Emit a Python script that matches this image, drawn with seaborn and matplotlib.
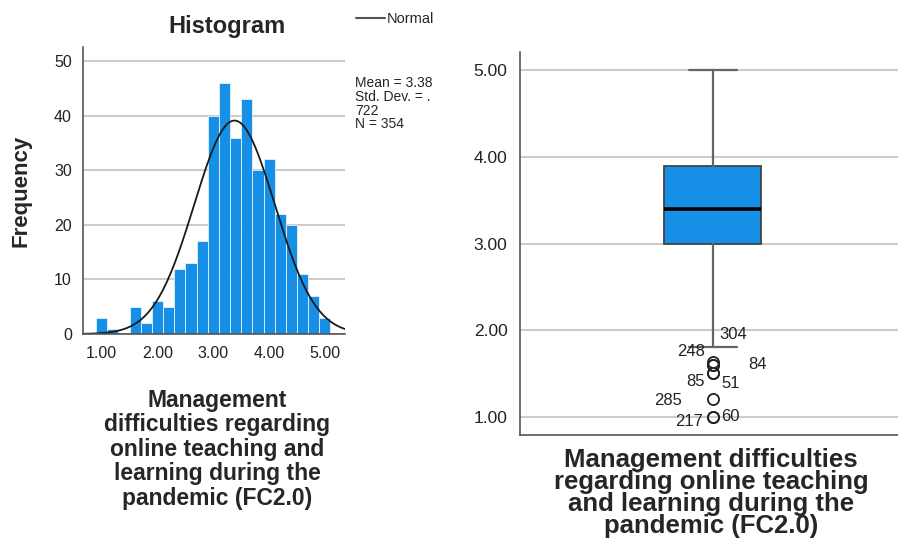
import numpy as np
import pandas as pd
import seaborn as sns
import matplotlib.pyplot as plt
from matplotlib.lines import Line2D

# histogram bins (centres) and counts
bin_centers = [1.0, 1.2, 1.4, 1.6, 1.8, 2.0, 2.2, 2.4, 2.6, 2.8, 3.0,
               3.2, 3.4, 3.6, 3.8, 4.0, 4.2, 4.4, 4.6, 4.8, 5.0]
counts = [3, 1, 0, 5, 2, 6, 5, 12, 13, 17, 40,
          46, 36, 43, 30, 32, 22, 20, 11, 7, 3]
mean_val = 3.38
sd_val = 0.722
n_val = 354

# boxplot summary
box_q1 = 3.0
box_med = 3.4
box_q3 = 3.9
whisk_lo = 1.8
whisk_hi = 5.0
outlier_vals = [1.63, 1.6, 1.6, 1.5, 1.5, 1.2, 1.0, 1.0]
outlier_ids = ["304", "248", "84", "85", "51", "285", "217", "60"]
# label offsets from each point, in pixels (dx, dy down)
outlier_off = [(20, -28), (-22, -13), (45, 0), (-17, 8), (18, 10), (-45, 1), (-24, 5), (17, 0)]

hist_ticks = [1, 2, 3, 4, 5]
box_ticks = [1, 2, 3, 4, 5]

xlabel_hist = "Management\ndifficulties regarding\nonline teaching and\nlearning during the\npandemic (FC2.0)"
xlabel_box = "Management difficulties\nregarding online teaching\nand learning during the\npandemic (FC2.0)"

blue = "#1590e6"

sns.set_style("white")
plt.rcParams['font.family'] = ['Liberation Sans', 'DejaVu Sans']

W, H = 898, 548
fig = plt.figure(figsize=(W / 100, H / 100), dpi=100)

def fx(px):
    return px / W

def fy(py):
    return 1 - py / H

ax1 = fig.add_axes([fx(83), fy(334), (345 - 83) / W, (334 - 47) / H])
ax2 = fig.add_axes([fx(520), fy(435), (898 - 520) / W, (435 - 52) / H])

# ---- histogram ----
df = pd.DataFrame({"x": bin_centers, "n": counts})
sns.histplot(data=df, x="x", weights="n", binwidth=0.2, binrange=(0.9, 5.1),
             color=blue, alpha=1, edgecolor="#e8f2fb", linewidth=0.6, ax=ax1)

xs = np.linspace(0.66, 5.36, 300)
ys = n_val * 0.2 / (sd_val * np.sqrt(2 * np.pi)) * np.exp(-0.5 * ((xs - mean_val) / sd_val) ** 2)
sns.lineplot(x=xs, y=ys, color="#1a1a1a", linewidth=1.3, ax=ax1)

ax1.set_xlim(0.665, 5.36)
ax1.set_ylim(0, 52.6)
ax1.set_xticks(hist_ticks)
ax1.set_xticklabels([f"{t:.2f}" for t in hist_ticks])
ax1.set_yticks([0, 10, 20, 30, 40, 50])
ax1.yaxis.grid(True, color="#cccccc", linewidth=1.5)
ax1.set_axisbelow(True)
ax1.tick_params(length=0, labelsize=11.5, colors="#222222")
ax1.tick_params(axis="y", pad=8)
ax1.tick_params(axis="x", pad=9)
for s in ["top", "right"]:
    ax1.spines[s].set_visible(False)
for s in ["left", "bottom"]:
    ax1.spines[s].set_color("#555555")
    ax1.spines[s].set_linewidth(1.2)
ax1.set_xlabel("")
ax1.set_ylabel("Frequency", fontsize=16, fontweight="bold", labelpad=16)
fig.text(fx(227), fy(27), "Histogram", fontsize=17, fontweight="bold", ha="center", va="center")
fig.text(fx(217), fy(389), xlabel_hist, fontsize=16.5, fontweight="bold",
         ha="center", va="top", linespacing=1.08)

leg_handle = Line2D([], [], color="#555555", linewidth=1.5)
ax1.legend([leg_handle], ["Normal"], loc="center left", bbox_to_anchor=(fx(349), fy(19)),
           bbox_transform=fig.transFigure, frameon=False, handlelength=2.0,
           handletextpad=0.1, fontsize=10.5, borderpad=0)
fig.text(fx(355), fy(76), "Mean = 3.38\nStd. Dev. = .\n722\nN = 354",
         fontsize=10, ha="left", va="top", linespacing=0.98)

# ---- boxplot ----
stats = [dict(med=box_med, q1=box_q1, q3=box_q3, whislo=whisk_lo, whishi=whisk_hi,
              fliers=outlier_vals)]
ax2.yaxis.grid(True, color="#cccccc", linewidth=1.5)
ax2.set_axisbelow(True)
ax2.bxp(stats, positions=[0], widths=0.513, capwidths=[0.25], patch_artist=True,
        boxprops=dict(facecolor=blue, edgecolor="#444444", linewidth=1.3),
        whiskerprops=dict(color="#666666", linewidth=1.6),
        capprops=dict(color="#666666", linewidth=1.6),
        medianprops=dict(color="black", linewidth=2.6),
        flierprops=dict(marker="o", markerfacecolor="none", markeredgecolor="#222222",
                        markersize=8, markeredgewidth=1.3))
for v, lab, (dx, dy) in zip(outlier_vals, outlier_ids, outlier_off):
    ax2.annotate(lab, xy=(0, v), xytext=(dx * 0.72, -dy * 0.72), textcoords="offset points",
                 ha="center", va="center", fontsize=12, color="#222222")

ax2.set_xlim(-1.021, 0.979)
ax2.set_ylim(0.79, 5.21)
ax2.set_xticks([])
ax2.set_yticks(box_ticks)
ax2.set_yticklabels([f"{t:.2f}" for t in box_ticks])
ax2.tick_params(length=0, labelsize=12.5, colors="#222222", pad=9)
for s in ["top", "right"]:
    ax2.spines[s].set_visible(False)
for s in ["left", "bottom"]:
    ax2.spines[s].set_color("#555555")
    ax2.spines[s].set_linewidth(1.2)
fig.text(fx(711), fy(448), xlabel_box, fontsize=18.5, fontweight="bold",
         ha="center", va="top", linespacing=0.9)

fig.savefig("out.png", dpi=100, facecolor="white")
